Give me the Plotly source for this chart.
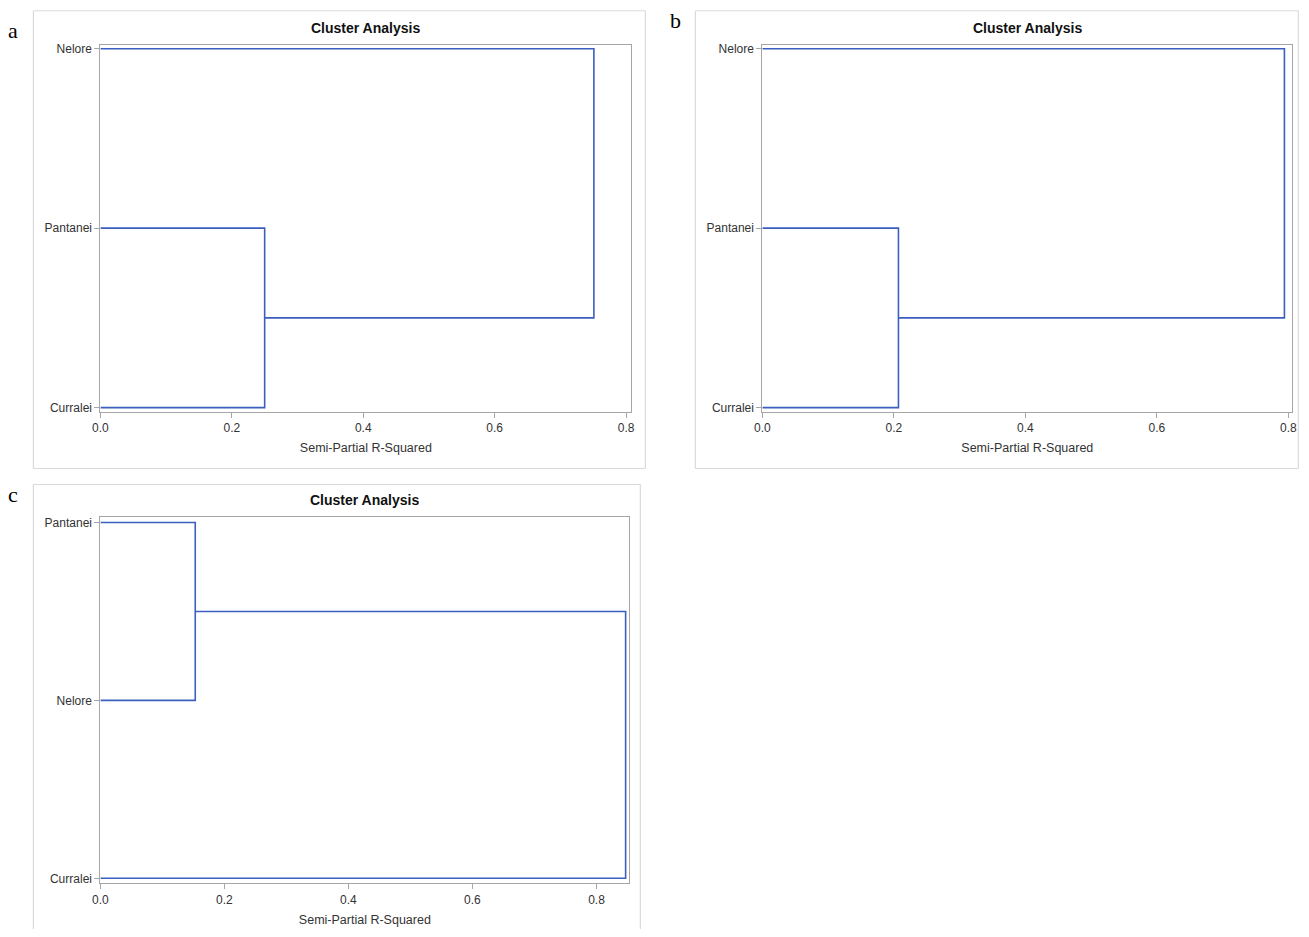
import plotly.graph_objects as go

# ---------------- data ----------------
panel_labels = ["a", "b", "c"]
chart_title = "Cluster Analysis"
x_title = "Semi-Partial R-Squared"
x_tick_vals = [0.0, 0.2, 0.4, 0.6, 0.8]
x_tick_text = ["0.0", "0.2", "0.4", "0.6", "0.8"]

# leaves listed bottom -> top
leaves_a = ["Curralei", "Pantanei", "Nelore"]
merge_a = [0.250, 0.751]      # first merge: two bottom leaves, second: with top leaf
leaves_b = ["Curralei", "Pantanei", "Nelore"]
merge_b = [0.207, 0.794]
leaves_c = ["Curralei", "Nelore", "Pantanei"]
merge_c = [0.153, 0.847]      # first merge: two top leaves, second: with bottom leaf
pair_pos = ["bottom", "bottom", "top"]   # which pair merges first in each panel

x_max = [0.808, 0.806, 0.853]

# ---------------- layout helpers ----------------
PAGE_MARGIN = 8            # default body margin of the html page
W, H = 1309 - 2 * PAGE_MARGIN, 937 - 2 * PAGE_MARGIN
LINE = "#3b5fbf"
AX = "#a6a6a6"
FONT = "Liberation Sans, Arial, sans-serif"

# small empirical correction of the target pixel positions
SX, OX = 0.99, 7.7
SY, OY = 0.994, 2.3

def px(x):
    xc = (x - OX) / SX
    return (xc - PAGE_MARGIN) / W

def py(y):
    yc = (y - OY) / SY
    return 1 - (yc - PAGE_MARGIN) / H

def dendro(leaves, merges, pair):
    xs, ys = [], []
    h1, h2 = merges
    if pair == "bottom":
        a, b, single = 0, 1, 2
    else:
        a, b, single = 1, 2, 0
    node = (a + b) / 2
    xs += [0, h1, h1, 0, None]
    ys += [a, a, b, b, None]
    xs += [h1, h2, h2, 0, None]
    ys += [node, node, single, single, None]
    return xs, ys

# plot area rects in page pixels (left, top, right, bottom)
areas = [(100, 44, 631, 411), (762, 44, 1292, 411), (100, 517, 629, 883)]
frames = [(33, 10, 645, 468), (695, 10, 1298, 468), (33, 484, 640, 945)]
label_pos = [(13, 30), (675, 20), (13, 494)]
y_pad = [0.022, 0.022, 0.028]

fig = go.Figure()
data = [(leaves_a, merge_a), (leaves_b, merge_b), (leaves_c, merge_c)]
shapes = []
annotations = []
for i, ((leaves, merges), area) in enumerate(zip(data, areas)):
    n = i + 1
    xa = "x" if n == 1 else f"x{n}"
    ya = "y" if n == 1 else f"y{n}"
    xs, ys = dendro(leaves, merges, pair_pos[i])
    fig.add_trace(go.Scatter(x=xs, y=ys, mode="lines", xaxis=xa, yaxis=ya,
                             line=dict(color=LINE, width=1.6), showlegend=False,
                             hoverinfo="skip"))
    l, t, r, b = area
    xkey = "xaxis" if n == 1 else f"xaxis{n}"
    ykey = "yaxis" if n == 1 else f"yaxis{n}"
    fig.update_layout(**{
        xkey: dict(domain=[max(0, px(l)), min(1, px(r))], anchor=ya, range=[0, x_max[i]],
                   tickvals=x_tick_vals, ticktext=x_tick_text,
                   ticks="outside", ticklen=5, tickcolor=AX,
                   showline=True, linecolor=AX, mirror=True, showgrid=False,
                   zeroline=False, tickfont=dict(size=12, color="#333333", family=FONT),
                   title=dict(text=x_title, standoff=9,
                              font=dict(size=12.5, color="#333333", family=FONT))),
        ykey: dict(domain=[max(0, py(b)), min(1, py(t))], anchor=xa,
                   range=[-y_pad[i], 2 + y_pad[i]],
                   tickvals=[0, 1, 2], ticktext=leaves,
                   ticks="outside", ticklen=5, tickcolor=AX,
                   showline=True, linecolor=AX, mirror=True, showgrid=False,
                   zeroline=False, tickfont=dict(size=12, color="#333333", family=FONT)),
    })
    fl, ft, fr, fb = frames[i]
    for (x0, y0, x1, y1) in [(fl, ft, fr, ft), (fl, ft, fl, fb), (fr, ft, fr, fb), (fl, fb, fr, fb)]:
        shapes.append(dict(type="line", xref="paper", yref="paper",
                           x0=px(x0), x1=px(x1), y0=py(y0), y1=py(y1),
                           line=dict(color="#dadada", width=1.2), layer="below"))
    annotations.append(dict(text="<b>" + chart_title + "</b>", xref="paper", yref="paper",
                            x=px((l + r) / 2), y=py(t - 17), xanchor="center",
                            yanchor="middle", showarrow=False,
                            font=dict(size=14, color="#111111", family=FONT)))
    lx, ly = label_pos[i]
    annotations.append(dict(text=panel_labels[i], xref="paper", yref="paper",
                            x=px(lx), y=py(ly), xanchor="center", yanchor="middle",
                            showarrow=False,
                            font=dict(size=22, color="#000000",
                                      family="Liberation Serif, Times New Roman, serif")))

fig.update_layout(width=W, height=H, margin=dict(l=0, r=0, t=0, b=0),
                  paper_bgcolor="white", plot_bgcolor="white",
                  shapes=shapes, annotations=annotations)
fig.write_html("out.html")
